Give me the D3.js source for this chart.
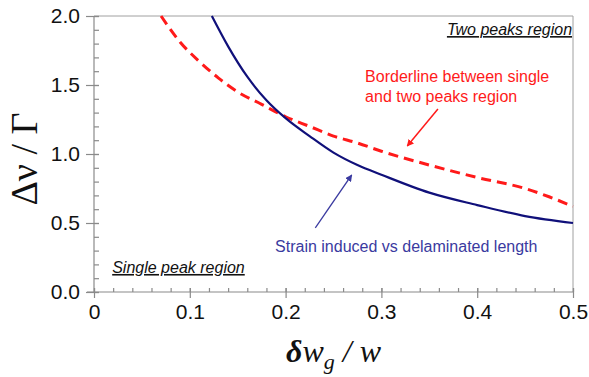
<!DOCTYPE html>
<html>
<head>
<meta charset="utf-8">
<script src="https://cdn.jsdelivr.net/npm/d3@7"></script>
<style>
body { margin: 0; background: #fff; }
text { font-family: "Liberation Sans", Arial, sans-serif; }
</style>
</head>
<body>
<div id="chart"></div>
<script>
var svgWidth = 589;
var svgHeight = 377;
var margin = {top: 16, right: 16, bottom: 85, left: 94};

// strain induced vs delaminated length (solid blue)
var strainX = [0.123, 0.14, 0.16, 0.18, 0.20, 0.225, 0.25, 0.275, 0.30, 0.35, 0.40, 0.45, 0.50];
var strainY = [2.00, 1.78, 1.56, 1.39, 1.26, 1.13, 1.01, 0.92, 0.85, 0.72, 0.63, 0.55, 0.50];

// borderline between single and two peaks region (dashed red)
var borderX = [0.07, 0.09, 0.11, 0.13, 0.15, 0.175, 0.20, 0.225, 0.25, 0.275, 0.30, 0.35, 0.40, 0.45, 0.475, 0.50];
var borderY = [2.00, 1.81, 1.67, 1.55, 1.45, 1.36, 1.27, 1.20, 1.13, 1.08, 1.02, 0.92, 0.83, 0.75, 0.69, 0.62];

var xTicks = [0, 0.1, 0.2, 0.3, 0.4, 0.5];
var xTickLabels = ["0", "0.1", "0.2", "0.3", "0.4", "0.5"];
var yTicks = [0, 0.5, 1.0, 1.5, 2.0];
var yTickLabels = ["0.0", "0.5", "1.0", "1.5", "2.0"];

var width = svgWidth - margin.left - margin.right;
var height = svgHeight - margin.top - margin.bottom;

var svg = d3.select("#chart")
    .append("svg")
    .attr("width", svgWidth)
    .attr("height", svgHeight);

var g = svg.append("g")
    .attr("transform", `translate(${margin.left},${margin.top})`);

var x = d3.scaleLinear().domain([0, 0.5]).range([0, width]);
var y = d3.scaleLinear().domain([0, 2]).range([height, 0]);

var axisColor = "#8a8a8a";
var serif = "'Liberation Serif', 'Times New Roman', serif";

// frame (top and right)
g.append("line").attr("x1", x(0)).attr("x2", x(0.5)).attr("y1", y(2)).attr("y2", y(2))
    .attr("stroke", "#a0a0a0").attr("stroke-width", 1);
g.append("line").attr("x1", x(0.5)).attr("x2", x(0.5)).attr("y1", y(2)).attr("y2", y(0))
    .attr("stroke", "#a0a0a0").attr("stroke-width", 1);

// minor ticks
var xMinor = g.append("g")
    .attr("transform", `translate(0,${height})`)
    .call(d3.axisBottom(x).tickValues(d3.range(0, 0.501, 0.02)).tickSize(-4).tickFormat(""));
var yMinor = g.append("g")
    .call(d3.axisLeft(y).tickValues(d3.range(0, 2.001, 0.1)).tickSize(-5).tickFormat(""));
[xMinor, yMinor].forEach(function(a) { a.select(".domain").remove(); });

// major ticks, crossing the axis
var xAxis = g.append("g")
    .attr("transform", `translate(0,${height})`)
    .call(d3.axisBottom(x).tickValues(xTicks).tickSize(6)
        .tickFormat(function(d, i) { return xTickLabels[i]; }));
xAxis.selectAll(".tick line").attr("y1", -4);
xAxis.select(".domain").attr("d", `M-7,0H${width}`);

var yAxis = g.append("g")
    .call(d3.axisLeft(y).tickValues(yTicks).tickSize(8)
        .tickFormat(function(d, i) { return yTickLabels[i]; }));
yAxis.selectAll(".tick line").attr("x1", 5);
yAxis.select(".domain").attr("d", `M0,${height}V0`);

g.selectAll(".tick line, .domain").attr("stroke", axisColor).attr("stroke-width", 1.2);
xMinor.selectAll(".tick line").attr("stroke", axisColor);
yMinor.selectAll(".tick line").attr("stroke", axisColor);

xAxis.selectAll(".tick text")
    .attr("font-size", 21).attr("fill", "#111").attr("y", 12).attr("dy", "0.71em");
yAxis.selectAll(".tick text")
    .attr("font-size", 21).attr("fill", "#111").attr("x", -14);

// curves
var line = d3.line()
    .x(function(d) { return x(d[0]); })
    .y(function(d) { return y(d[1]); })
    .curve(d3.curveMonotoneX);

g.append("path")
    .datum(borderX.map(function(v, i) { return [v, borderY[i]]; }))
    .attr("d", line)
    .attr("fill", "none")
    .attr("stroke", "#ff1a1a")
    .attr("stroke-width", 3)
    .attr("stroke-dasharray", "10,6");

g.append("path")
    .datum(strainX.map(function(v, i) { return [v, strainY[i]]; }))
    .attr("d", line)
    .attr("fill", "none")
    .attr("stroke", "#10107a")
    .attr("stroke-width", 2.2);

// arrows
var defs = svg.append("defs");
function marker(id, color) {
    defs.append("marker")
        .attr("id", id).attr("viewBox", "0 0 10 10")
        .attr("refX", 9).attr("refY", 5)
        .attr("markerWidth", 7).attr("markerHeight", 7)
        .attr("markerUnits", "userSpaceOnUse")
        .attr("orient", "auto")
        .append("path").attr("d", "M0,0L10,5L0,10z").attr("fill", color);
}
marker("arrRed", "#ff1a1a");
marker("arrBlue", "#3a3aa0");

g.append("line")
    .attr("x1", x(0.359)).attr("y1", y(1.326))
    .attr("x2", x(0.327)).attr("y2", y(1.058))
    .attr("stroke", "#ff1a1a").attr("stroke-width", 1.5)
    .attr("marker-end", "url(#arrRed)");

g.append("line")
    .attr("x1", x(0.231)).attr("y1", y(0.464))
    .attr("x2", x(0.269)).attr("y2", y(0.848))
    .attr("stroke", "#3a3aa0").attr("stroke-width", 1.3)
    .attr("marker-end", "url(#arrBlue)");

// annotations
g.append("text")
    .attr("x", x(0.499)).attr("y", y(1.862))
    .attr("text-anchor", "end")
    .attr("font-size", 16).attr("font-style", "italic")
    .style("text-decoration", "underline")
    .attr("fill", "#111")
    .text("Two peaks region");

g.append("text")
    .attr("x", x(0.019)).attr("y", y(0.138))
    .attr("font-size", 16).attr("font-style", "italic")
    .style("text-decoration", "underline")
    .attr("fill", "#111")
    .text("Single peak region");

var red = g.append("text")
    .attr("font-size", 16).attr("fill", "#ff1a1a");
red.append("tspan").attr("x", x(0.283)).attr("y", y(1.522)).text("Borderline between single");
red.append("tspan").attr("x", x(0.283)).attr("y", y(1.377)).text("and two peaks region");

g.append("text")
    .attr("x", x(0.189)).attr("y", y(0.29))
    .attr("font-size", 16).attr("fill", "#3a3aa0")
    .text("Strain induced vs delaminated length");

// axis titles
var xt = svg.append("text")
    .attr("x", margin.left + width / 2)
    .attr("y", 362)
    .attr("text-anchor", "middle")
    .style("font-family", serif)
    .attr("font-style", "italic")
    .attr("font-size", 32)
    .attr("fill", "#111");
xt.append("tspan").attr("font-weight", "bold").text("δ");
xt.append("tspan").text("w");
xt.append("tspan").attr("font-size", 22).attr("dy", 7).text("g");
xt.append("tspan").attr("dy", -7).text(" / w");

svg.append("text")
    .attr("transform", "translate(37,159) rotate(-90)")
    .attr("text-anchor", "middle")
    .style("font-family", serif)
    .attr("font-size", 38)
    .attr("fill", "#111")
    .text("Δν / Γ");
</script>
</body>
</html>
